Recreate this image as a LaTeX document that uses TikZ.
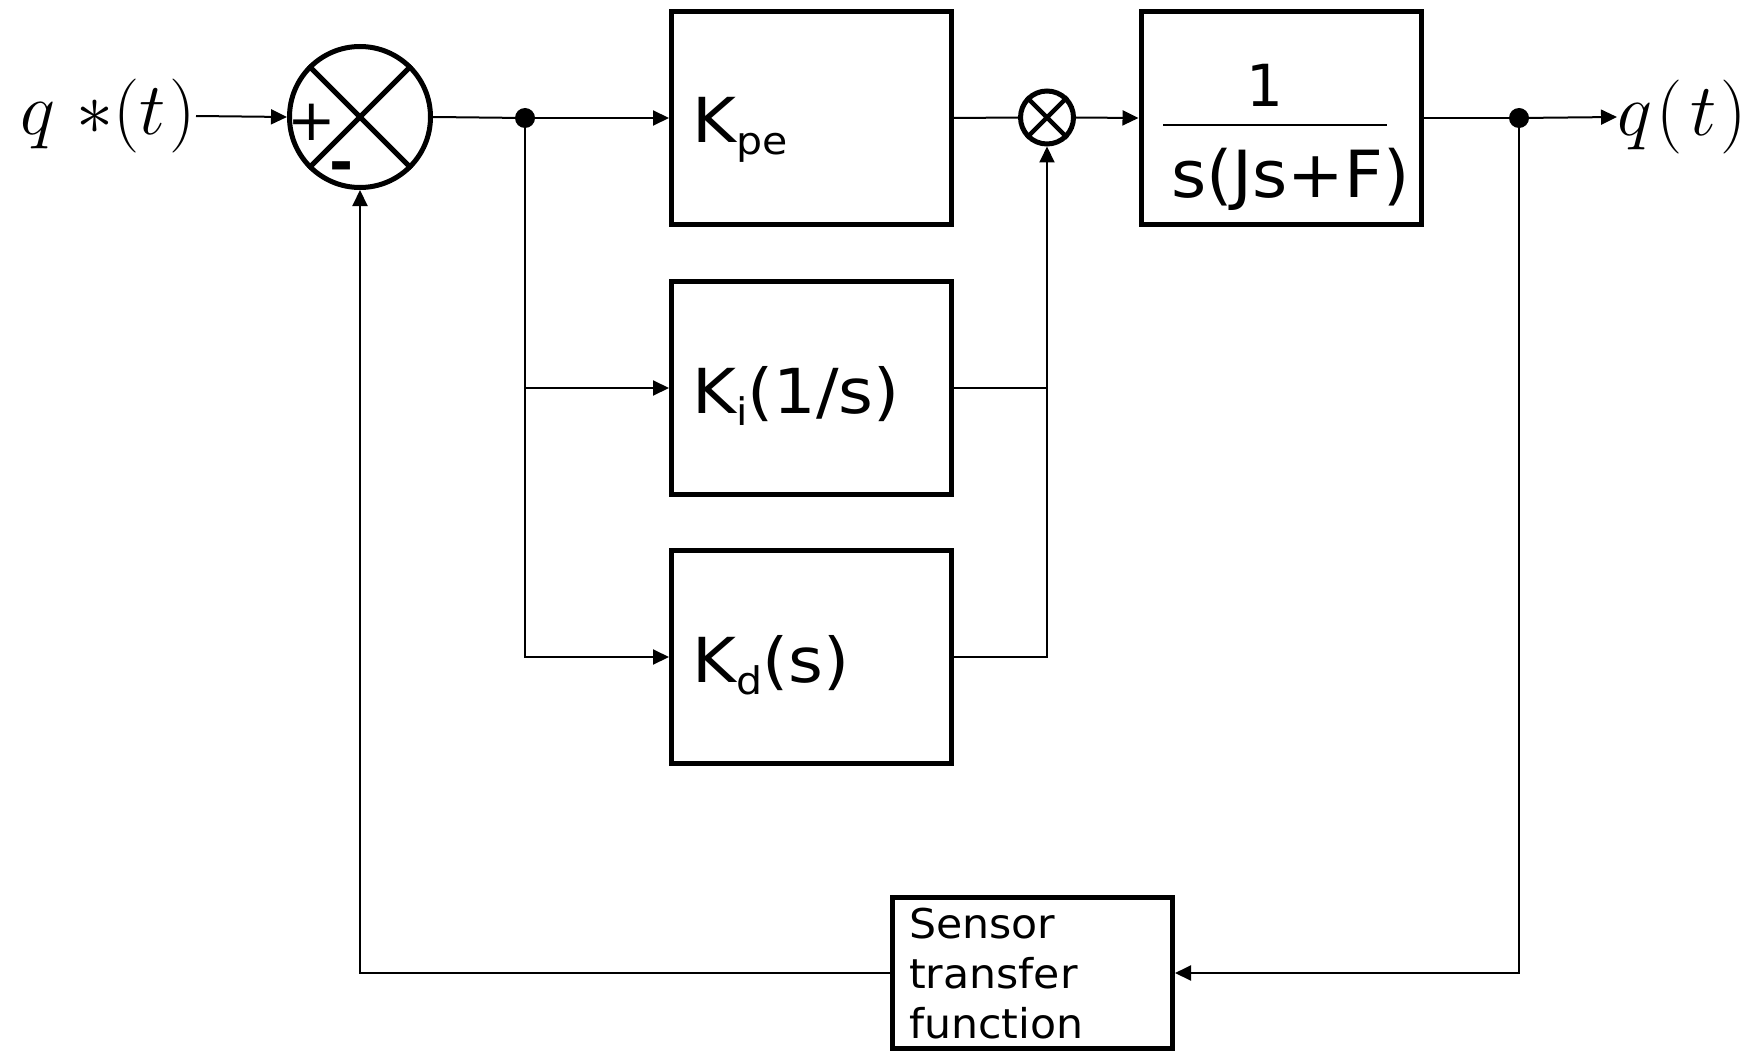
\RequirePackage{fix-cm}
\documentclass[tikz,border=0pt]{standalone}
\usepackage{fontspec}
\setmainfont{DejaVu Sans}
\newfontfamily\widefont[FakeStretch=1.08]{DejaVu Sans}
\newfontfamily\semiwide[FakeStretch=1.04]{DejaVu Sans}
\usetikzlibrary{arrows.meta}
\newcommand\lowsub[1]{\raisebox{-12pt}{\fontsize{38}{38}\selectfont #1}}
\tikzset{
  blk/.style={draw, line width=5pt, minimum width=280pt, minimum height=213pt, inner sep=0pt},
  sumc/.style={draw, circle, line width=5pt, minimum size=141pt, inner sep=0pt},
  multc/.style={draw, circle, line width=5pt, minimum size=53pt, inner sep=0pt},
  xline/.style={line width=5pt},
  conn/.style={line width=2pt},
  arr/.style={conn, -{Triangle[length=16pt,width=15pt]}},
  jdot/.style={circle, fill=black, minimum size=20pt, inner sep=0pt},
  mathlbl/.style={inner sep=0pt, font=\fontsize{74}{80}\selectfont},
  boxtxt/.style={inner sep=0pt, anchor=base west, font=\widefont\fontsize{62}{70}\selectfont},
}
\begin{document}
\begin{tikzpicture}[x=1pt, y=-1pt]
\useasboundingbox (0,0) rectangle (1755,1051);
% summing junction
\node[sumc] (sum) at (360,117) {};
\draw[xline] (sum.45) -- (sum.225) (sum.135) -- (sum.315);
\node[inner sep=0pt, font=\fontsize{58}{58}\selectfont] (plus) at (312,122) {+};
\node[inner sep=0pt, font=\fontsize{58}{58}\selectfont\bfseries] (minus) at (342,172) {-};
% input label
\node[mathlbl, anchor=east] (qs) at (196,116) {$q\;{*}(t\mkern1mu)$};
% junction dot
\node[jdot] (jd) at (525,118) {};
% controller blocks
\node[blk] (kpe) at (811.5,118) {};
\node[boxtxt] (kpet) at (692,143) {K\lowsub{pe}};
\node[blk] (ki) at (811.5,388) {};
\node[boxtxt] (kit) at (692,413) {K\lowsub{i}(1/s)};
\node[blk] (kd) at (811.5,657) {};
\node[boxtxt] (kdt) at (692,682) {K\lowsub{d}(s)};
% multiplier
\node[multc] (mult) at (1047,117.5) {};
\draw[line width=4.5pt] (mult.45) -- (mult.225) (mult.135) -- (mult.315);
% plant
\node[blk] (tf) at (1281,118) {};
\node[inner sep=0pt, anchor=base, font=\fontsize{58}{58}\selectfont] (num) at (1265,107) {1};
\coordinate (fl) at (1163,125);
\coordinate (fr) at (1387,125);
\draw[line width=2.5pt] (fl) -- (fr);
\node[inner sep=0pt, anchor=base west, font=\semiwide\fontsize{65}{65}\selectfont] (den) at (1171,197) {s(Js+F)};
% output
\node[jdot] (od) at (1519,118) {};
\node[mathlbl, anchor=west] (qt) at (1617,117) {$q\mkern1mu(\mkern2mu t\mkern1mu)$};
% sensor
\node[draw, line width=5pt, minimum width=280pt, minimum height=151pt, inner sep=0pt] (sens) at (1032.5,973) {};
\node[inner sep=0pt, anchor=north west, align=left, font=\semiwide\fontsize{41}{50}\selectfont] (senst) at (909,908) {Sensor\\transfer\\function};
% connectors
\draw[arr] (qs.east) -- (sum.west);
\draw[conn] (sum.east) -- (jd.center);
\draw[arr] (jd.center) -- (kpe.west);
\draw[arr] (jd.center) |- (kd.west);
\draw[arr] (jd.center |- ki.west) -- (ki.west);
\draw[conn] (kpe.east) -- (mult.west);
\draw[arr] (mult.east) -- (tf.west);
\draw[conn] (ki.east) -- (ki.east -| mult.south);
\draw[arr] (kd.east) -| (mult.south);
\draw[conn] (tf.east) -- (od.center);
\draw[arr] (od.center) -- (qt.west);
\draw[arr] (od.center) |- (sens.east);
\draw[arr] (sens.west) -| (sum.south);
\end{tikzpicture}
\end{document}
